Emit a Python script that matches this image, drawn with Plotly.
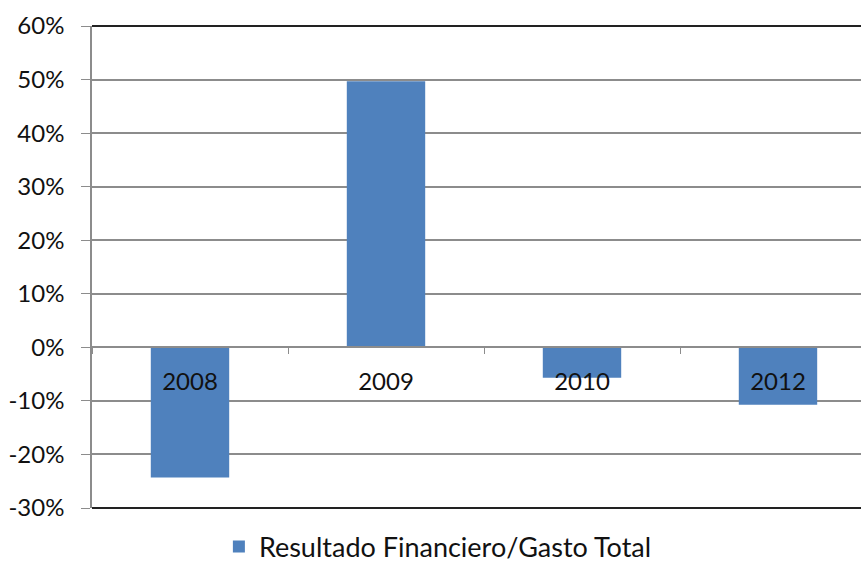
import plotly.graph_objects as go

categories = ["2008", "2009", "2010", "2012"]
values = [-0.243, 0.497, -0.057, -0.107]
series_name = "Resultado Financiero/Gasto Total"
y_ticks = [-0.3, -0.2, -0.1, 0.0, 0.1, 0.2, 0.3, 0.4, 0.5, 0.6]
y_ticktext = ["-30%", "-20%", "-10%", "0%", "10%", "20%", "30%", "40%", "50%", "60%"]

FONT = "Lato, Open Sans, sans-serif"
BAR = "#4F81BD"

fig = go.Figure()
fig.add_trace(go.Bar(
    x=categories, y=values, name=series_name,
    marker=dict(color=BAR, line=dict(width=0)),
    width=0.4, showlegend=True,
))

fig.update_layout(
    width=861, height=571,
    margin=dict(l=92, r=0, t=26, b=63, autoexpand=False),
    paper_bgcolor="white", plot_bgcolor="white",
    font=dict(family=FONT, size=24, color="#111111"),
    showlegend=True,
    legend=dict(orientation="h", x=0.165, xanchor="left", y=-0.03, yanchor="top",
                font=dict(size=27, color="#111111"), itemwidth=30, bgcolor="rgba(0,0,0,0)"),
    xaxis=dict(
        type="category", range=[-0.5, 3.4235],
        anchor="free", position=1/3,
        showline=True, linecolor="#8c8c8c", linewidth=1.5,
        ticks="outside", tickson="boundaries", ticklen=6, tickcolor="#8c8c8c",
        showgrid=False, ticklabelstandoff=13,
        tickfont=dict(size=24, color="#111111"),
    ),
    yaxis=dict(
        range=[-0.3, 0.6], tickvals=y_ticks, ticktext=y_ticktext,
        showgrid=True, gridcolor="#8c8c8c", gridwidth=1.5,
        zeroline=True, zerolinecolor="#8c8c8c", zerolinewidth=1.5,
        showline=True, linecolor="#8c8c8c", linewidth=1.5,
        ticks="outside", ticklen=9, tickcolor="#8c8c8c",
        ticklabelstandoff=12,
        tickfont=dict(size=24, color="#111111"),
    ),
    shapes=[
        dict(type="line", xref="paper", yref="paper", x0=0, x1=1, y0=1, y1=1,
             line=dict(color="#222222", width=2)),
        dict(type="line", xref="paper", yref="paper", x0=0, x1=1, y0=0, y1=0,
             line=dict(color="#222222", width=2)),
    ],
)

fig.write_html("out.html")
